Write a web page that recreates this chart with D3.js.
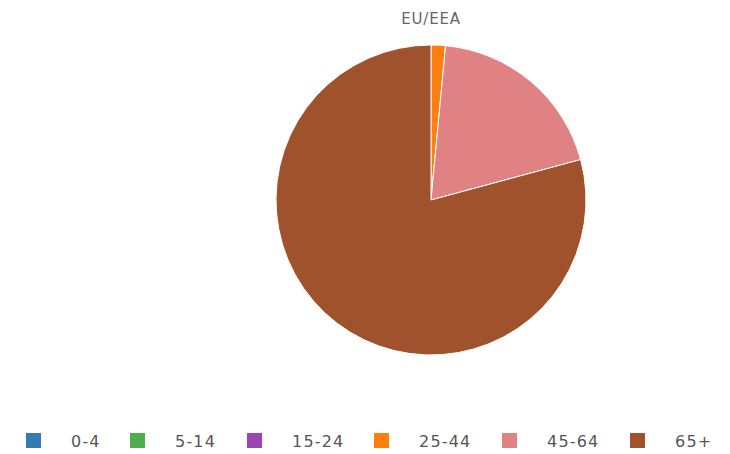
<!DOCTYPE html>
<html>
<head>
<meta charset="utf-8">
<script src="https://cdn.jsdelivr.net/npm/d3@7"></script>
<style>
  body { margin: 0; background: #fff; }
  text { font-family: "DejaVu Sans", Verdana, sans-serif; }
</style>
</head>
<body>
<svg id="chart" width="730" height="454"></svg>
<script>
// age groups and share of cases (%)
const groups = ["0-4", "5-14", "15-24", "25-44", "45-64", "65+"];
const shares = [0, 0, 0, 1.5, 19.3, 79.2];
const colors = ["#337ab7", "#4cae4c", "#9c44b0", "#ff7f0e", "#e08283", "#a0522d"];
const title = "EU/EEA";

const svg = d3.select("#chart");
const cx = 431, cy = 200, radius = 155;

svg.append("text")
  .attr("x", cx).attr("y", 24)
  .attr("text-anchor", "middle")
  .style("font-size", "15px")
  .style("letter-spacing", "0.8px")
  .style("fill", "#666")
  .text(title);

const color = d3.scaleOrdinal().domain(groups).range(colors);
const pie = d3.pie().sort(null).value(d => d.v);
const arc = d3.arc().innerRadius(0).outerRadius(radius);
const data = groups.map((g, i) => ({ g: g, v: shares[i] }));

svg.append("g")
  .attr("transform", `translate(${cx},${cy})`)
  .selectAll("path")
  .data(pie(data).filter(d => d.data.v > 0))
  .join("path")
  .attr("d", arc)
  .attr("fill", d => color(d.data.g))
  .attr("stroke", "#fff")
  .attr("stroke-width", 1);

// legend
const legendX = [26, 130, 247, 374, 502, 630];
const legend = svg.append("g").attr("transform", "translate(0,433)");
const items = legend.selectAll("g").data(groups).join("g")
  .attr("transform", (d, i) => `translate(${legendX[i]},0)`);
items.append("rect")
  .attr("x", 0).attr("y", 0)
  .attr("width", 15).attr("height", 15)
  .attr("fill", d => color(d));
items.append("text")
  .attr("x", 45).attr("y", 14)
  .style("font-size", "16px")
  .style("letter-spacing", "1.2px")
  .style("fill", "#555")
  .text(d => d);
</script>
</body>
</html>
